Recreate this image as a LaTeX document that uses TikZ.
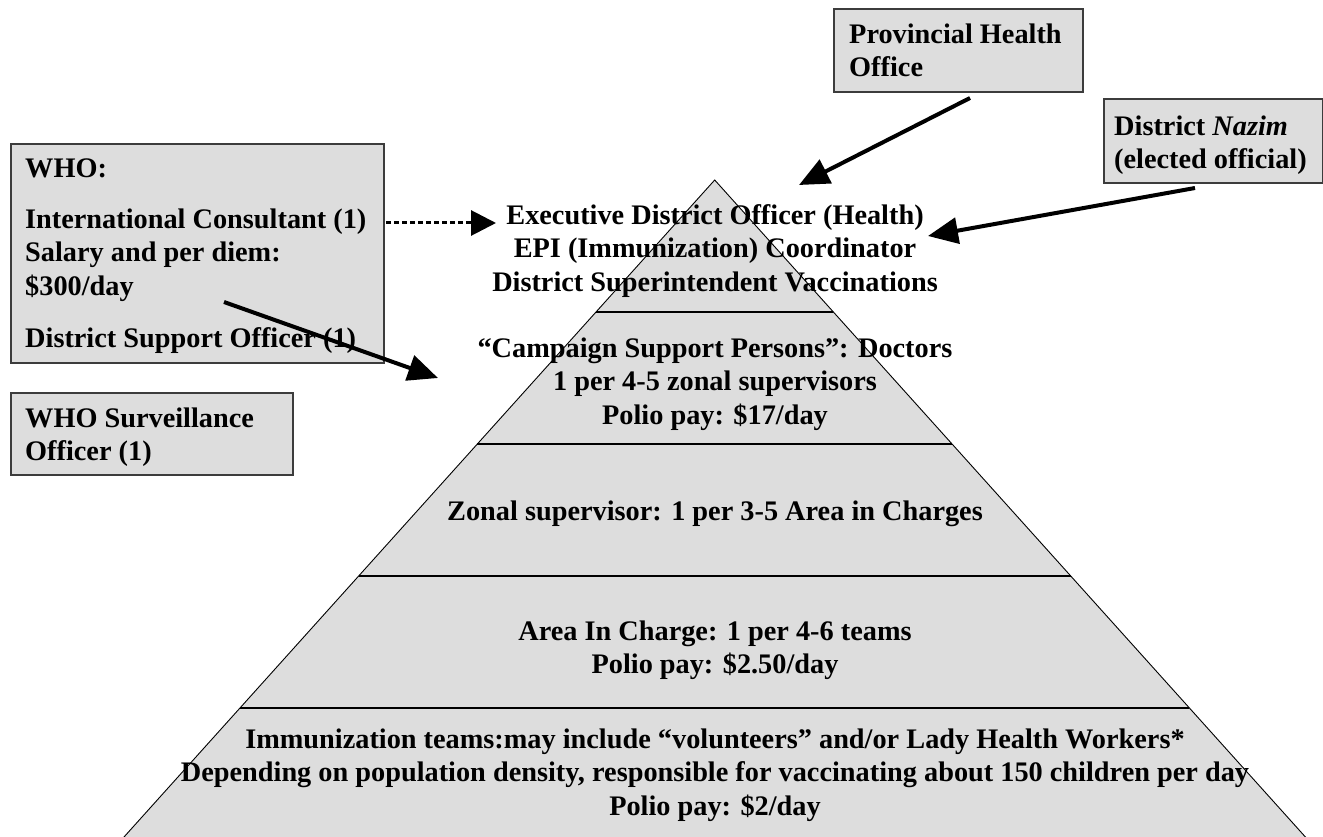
\documentclass[tikz,border=0pt]{standalone}
\usepackage{fontspec}
\setmainfont{Liberation Serif}
\usetikzlibrary{arrows.meta,calc}
\definecolor{boxgray}{RGB}{221,221,221}
\definecolor{boxedge}{RGB}{60,60,60}
\newcommand{\topstrut}{\rule{0pt}{24pt}}
\begin{document}
\begin{tikzpicture}[x=1pt,y=-1pt,
  lbl/.style={font=\bfseries\fontsize{28.3}{33.7}\selectfont, inner sep=0pt},
  tier/.style={lbl, anchor=north, align=center},
  boxtxt/.style={lbl, anchor=north west, align=left},
  box/.style={draw=boxedge, fill=boxgray, line width=1.6pt, anchor=north west, inner sep=0pt},
  arr/.style={line width=4pt, -{Triangle[length=30pt,width=26pt]}},
  dotarr/.style={line width=3pt, dash pattern=on 4.5pt off 3.5pt, -{Triangle[length=25pt,width=25pt]}}
]
\useasboundingbox (0,0) rectangle (1323,837);
\clip (0,0) rectangle (1323,837);

% pyramid
\coordinate (apex) at (714.7,180);
\coordinate (bl) at (121.3,840);
\coordinate (br) at (1308.1,840);
\filldraw[fill=boxgray, draw=black, line width=0.9pt] (apex) -- (bl) -- (br) -- cycle;
\foreach \f in {0.2,0.4,0.6,0.8}
  \draw[line width=1.2pt] ($(bl)!\f!(apex)$) -- ($(br)!\f!(apex)$);

% tier texts (north = first baseline - 24)
\node[tier] (t1) at (715,200) {\topstrut Executive District Officer (Health)\\EPI (Immunization) Coordinator\\District Superintendent Vaccinations};
\node[tier] (t2) at (715,333) {\topstrut “Campaign Support Persons”: Doctors\\1 per 4-5 zonal supervisors\\Polio pay: \$17/day};
\node[tier] (t3) at (715,496) {\topstrut Zonal supervisor: 1 per 3-5 Area in Charges};
\node[tier] (t4) at (715,616) {\topstrut Area In Charge: 1 per 4-6 teams\\Polio pay: \$2.50/day};
\node[tier] (t5) at (715,724) {\topstrut Immunization teams:may include “volunteers” and/or Lady Health Workers*\\Depending on population density, responsible for vaccinating about 150 children per day\\Polio pay: \$2/day};

% side boxes
\node[box, minimum width=373pt, minimum height=219pt] (who) at (10,143) {};
\node[boxtxt] (whoA) at (25,153) {\topstrut WHO:};
\node[boxtxt] (whoB) at (25,204) {\topstrut International Consultant (1)\\Salary and per diem:\\\$300/day};
\node[boxtxt] (whoC) at (25,323) {\topstrut District Support Officer (1)};

\node[box, minimum width=282pt, minimum height=82pt] (surv) at (10,392) {};
\node[boxtxt] (survT) at (25,403) {\topstrut WHO Surveillance\\Officer (1)};

\node[box, minimum width=249pt, minimum height=83pt] (prov) at (833,8) {};
\node[boxtxt] (provT) at (849,19) {\topstrut Provincial Health\\Office};

\node[box, minimum width=219pt, minimum height=84pt] (naz) at (1103,98) {};
\node[boxtxt] (nazT) at (1114,111) {\topstrut District \textit{Nazim}\\(elected official)};

% connectors
\coordinate (provS) at (970,98);
\coordinate (provE) at (799,185);
\coordinate (nazS) at (1195,188);
\coordinate (nazE) at (928,236);
\coordinate (dotS) at (386,223);
\coordinate (dotE) at (496,223);
\coordinate (whoS) at (224,302);
\coordinate (whoE) at (438,378);
\draw[arr] (provS) -- (provE);
\draw[arr] (nazS) -- (nazE);
\draw[dotarr] (dotS) -- (dotE);
\draw[arr] (whoS) -- (whoE);
\end{tikzpicture}
\end{document}
